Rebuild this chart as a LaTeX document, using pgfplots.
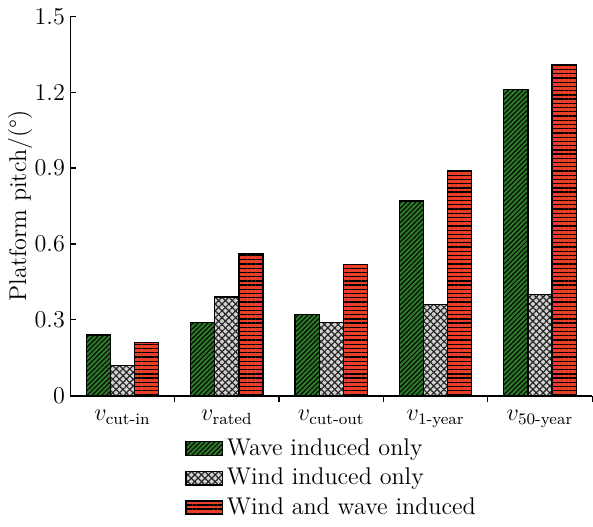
\documentclass[12pt,border=0pt]{standalone}
\usepackage{amsmath}
\usepackage{pgfplots}
\pgfplotsset{compat=1.18}
\usetikzlibrary{patterns.meta}
\definecolor{cgreen}{RGB}{44,120,40}
\definecolor{cgray}{RGB}{210,210,210}
\definecolor{cred}{RGB}{232,62,42}
\begin{document}
\begin{tikzpicture}
\begin{axis}[
 scale only axis, width=259.3pt, height=188.5pt,
 axis lines=left, axis line style={-, line width=0.8pt},
 xmin=-0.5, xmax=4.5, ymin=0, ymax=1.5,
 ytick={0,0.3,0.6,0.9,1.2,1.5},
 yticklabels={0,0.3,0.6,0.9,1.2,1.5},
 yticklabel style={xshift=1.5pt},
 xtick={0,1,2,3,4},
 xticklabels={$v_{\text{cut-in}}$,$v_{\text{rated}}$,$v_{\text{cut-out}}$,$v_{\text{1-year}}$,$v_{\text{50-year}}$},
 major x tick style={draw=none},
 minor xtick={0.5,1.5,2.5,3.5,4.5},
 tick align=inside, tick style={black, line width=0.6pt},
 major tick length=3pt, minor tick length=3pt,
 ylabel={Platform pitch/(\textdegree)},
 ylabel style={yshift=-7pt},
 ybar=0pt, bar width=0.231,
 legend style={at={(0.208,-0.09)}, anchor=north west, draw=none, fill=none, row sep=0.6pt, font=\normalsize},
 legend cell align=left,
 legend image code/.code={\draw[#1] (0pt,-3.4pt) rectangle (18pt,3.4pt);},
]
\addplot[draw=black, line width=0.6pt, fill=cgreen, bar shift=-0.231,
  postaction={pattern={Lines[angle=45,distance=1.7pt,line width=0.5pt]}, pattern color=black}]
  coordinates {(0,0.24)(1,0.29)(2,0.32)(3,0.77)(4,1.21)};
\addplot[draw=black, line width=0.6pt, fill=cgray, bar shift=0,
  postaction={pattern={Lines[angle=45,distance=2.4pt,line width=0.6pt]}, pattern color=black!85},
  postaction={pattern={Lines[angle=-45,distance=2.4pt,line width=0.6pt]}, pattern color=black!85}]
  coordinates {(0,0.12)(1,0.39)(2,0.29)(3,0.36)(4,0.40)};
\addplot[draw=black, line width=0.6pt, fill=cred, bar shift=0.231,
  postaction={pattern={Lines[angle=0,distance=2.1pt,line width=0.65pt]}, pattern color=black}]
  coordinates {(0,0.21)(1,0.56)(2,0.52)(3,0.89)(4,1.31)};
\legend{Wave induced only, Wind induced only, Wind and wave induced}
\end{axis}
\end{tikzpicture}
\end{document}
